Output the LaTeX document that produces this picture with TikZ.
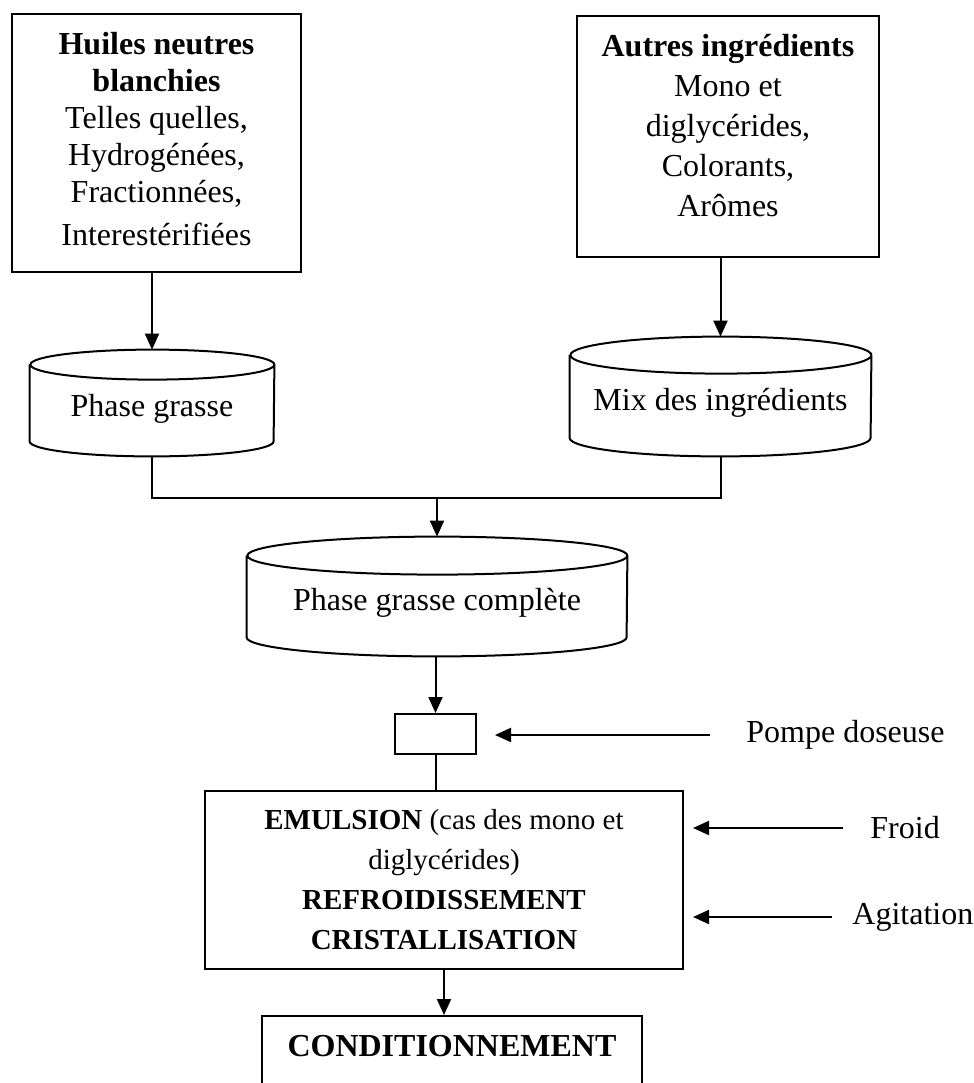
\documentclass[tikz,border=0pt]{standalone}
\usepackage{fontspec}
\setmainfont{Liberation Serif}
\usetikzlibrary{arrows.meta}

\tikzset{
  line/.style={line width=1pt},
  box/.style={draw, line, inner sep=0pt, align=center},
  tank/.style={inner sep=0pt, align=center},
  arr/.style={line, -{Triangle[length=8pt,width=7pt]}},
  lbl/.style={inner sep=0pt, anchor=west},
}

% name, centre, half width, half height, end radius, text
\newcommand{\tank}[6]{%
  \node[tank, minimum width=2*#3, minimum height=2*#4] (#1) at #2 {};
  \node[tank] (#1-t) at ([yshift=-3pt]#1.center) {#6};
  \draw[line] ([yshift=-#5]#1.north west) -- ([yshift=#5]#1.south west)
    arc[start angle=180, end angle=360, x radius=#3, y radius=#5]
    -- ([yshift=-#5]#1.north east)
    arc[start angle=0, end angle=360, x radius=#3, y radius=#5];
}

\begin{document}
\begin{tikzpicture}[x=0.5pt, y=-0.5pt, font=\fontsize{16}{20}\selectfont]
\useasboundingbox (0,0) rectangle (974,1083);
\clip (0,0) rectangle (974,1083);

% inputs
\node[box, minimum width=144.5pt, minimum height=129pt, text depth=4pt,
      font=\fontsize{16}{18.5}\selectfont] (huiles) at (156.5,143)
  {\textbf{Huiles neutres}\\ \textbf{blanchies}\\ Telles quelles,\\ Hydrogénées,\\ Fractionnées,\\[3pt] Interestérifiées};
\node[box, minimum width=151pt, minimum height=120.5pt, text depth=11pt] (autres) at (728,136.5)
  {\textbf{Autres ingrédients}\\ Mono et\\ diglycérides,\\ Colorants,\\ Arômes};

% tanks
\tank{pg}{(152,403)}{61pt}{26.5pt}{7.5pt}{Phase grasse}
\tank{mix}{(720.5,396.5)}{75.25pt}{29.75pt}{9.25pt}{Mix des ingrédients}
\tank{pgc}{(437,596.5)}{95pt}{29.75pt}{9.5pt}{Phase grasse complète}

% process
\node[box, minimum width=40.5pt, minimum height=20pt] (pump) at (435.5,734) {};
\node[box, minimum width=239pt, minimum height=89pt,
      font=\fontsize{14.5}{20}\selectfont] (main) at (444,880)
  {\textbf{EMULSION} (cas des mono et\\ diglycérides)\\ \textbf{REFROIDISSEMENT}\\ \textbf{CRISTALLISATION}};
\node[box, anchor=north, minimum width=190pt, inner ysep=9pt,
      text height=11pt, text depth=40pt] (cond) at (452,1015) {\textbf{CONDITIONNEMENT}};

% side inputs
\node[lbl] (pompe) at (746,735) {Pompe doseuse};
\node[lbl] (froid) at (870,828) {Froid};
\node[lbl] (agit) at (852,917) {Agitation};

% connectors
\coordinate (jn) at (437,498);
\draw[arr] (pg.north |- huiles.south) -- (pg.north);
\draw[arr] (mix.north |- autres.south) -- (mix.north);
\draw[line] (pg.south) |- (jn) -| (mix.south);
\draw[arr] (jn) -- (pgc.north);
\draw[arr] (pump.north |- pgc.south) -- (pump.north);
\draw[line] (pump.south) -- (pump.south |- main.north);
\draw[arr] (main.south) -- (main.south |- cond.north);

\draw[arr, shorten <=18pt, shorten >=9pt] (pompe.west) -- (pompe.west -| pump.east);
\draw[arr, shorten <=13.5pt, shorten >=4.5pt] (froid.west) -- (froid.west -| main.east);
\draw[arr, shorten <=10pt, shorten >=4.5pt] (agit.west) -- (agit.west -| main.east);
\end{tikzpicture}
\end{document}
